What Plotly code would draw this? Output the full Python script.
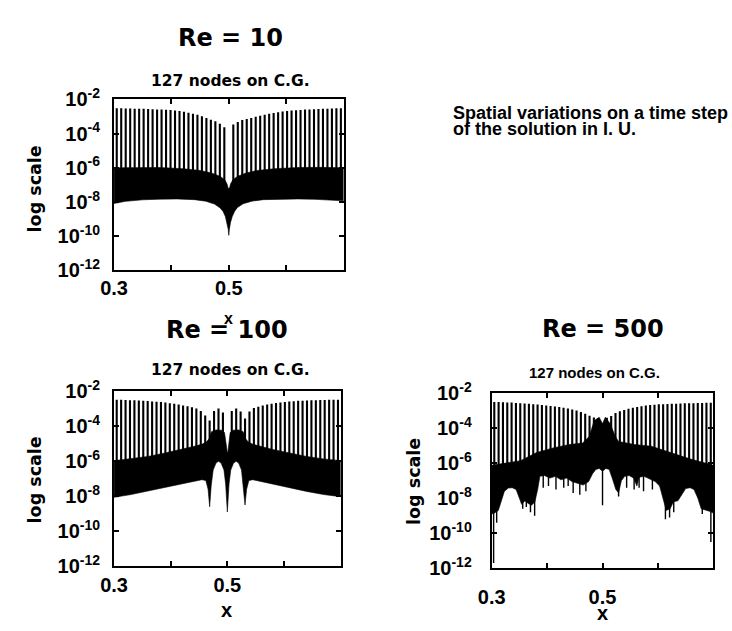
import numpy as np
import plotly.graph_objects as go

# Uniform grid: 127 interior nodes on [0, 1] (spacing 1/128); the window
# 0.3 <= x <= 0.7 holds nodes 39..89.
node_k = np.arange(39, 90)
node_x = node_k / 128.0

# log10 of the nodal peak amplitude, nodes 39..89 (None: no peak at x = 0.5)
peak_re10 = [-2.52, -2.52, -2.53, -2.53, -2.54, -2.54, -2.55, -2.56, -2.57, -2.58,
             -2.59, -2.60, -2.62, -2.64, -2.67, -2.72, -2.77, -2.83, -2.90, -2.98,
             -3.08, -3.18, -3.28, -3.42, -3.62, None,
             -3.46, -3.32, -3.20, -3.14, -3.08, -3.01, -2.95, -2.90, -2.84, -2.79,
             -2.75, -2.71, -2.68, -2.65, -2.63, -2.61, -2.59, -2.58, -2.57, -2.56,
             -2.55, -2.54, -2.53, -2.52, -2.52]
peak_re100 = [-2.48, -2.48, -2.49, -2.50, -2.51, -2.52, -2.54, -2.55, -2.57, -2.59,
              -2.61, -2.64, -2.67, -2.71, -2.75, -2.80, -2.85, -2.90, -2.98, -3.12,
              -3.38, -3.66, -3.12, -2.97, -3.20, None,
              -3.12, -2.98, -3.15, -3.55, -3.15, -2.95, -2.87, -2.80, -2.75, -2.70,
              -2.66, -2.63, -2.60, -2.58, -2.56, -2.54, -2.53, -2.52, -2.51, -2.50,
              -2.49, -2.49, -2.48, -2.48, -2.48]
peak_re500 = [-2.49, -2.50, -2.51, -2.52, -2.53, -2.55, -2.56, -2.58, -2.60, -2.62,
              -2.64, -2.67, -2.70, -2.72, -2.75, -2.78, -2.82, -2.86, -2.92, -2.98,
              -3.06, -3.16, -3.28, -3.38, -3.42, None,
              -3.40, -3.30, -3.12, -3.02, -2.95, -2.88, -2.83, -2.78, -2.74, -2.70,
              -2.67, -2.65, -2.63, -2.62, -2.61, -2.60, -2.59, -2.58, -2.57, -2.56,
              -2.56, -2.55, -2.55, -2.54, -2.54]

# Between-node oscillation band: upper and lower envelopes (log10)
band_hi_x_re10 = [0.300, 0.340, 0.380, 0.420, 0.450, 0.470, 0.485, 0.493, 0.497, 0.4985,
                  0.500, 0.5015, 0.503, 0.507, 0.515, 0.530, 0.550, 0.580, 0.620, 0.660, 0.700]
band_hi_re10 = [-6.00, -5.97, -5.98, -6.05, -6.15, -6.30, -6.50, -6.70, -6.95, -7.15,
                -7.20, -7.15, -6.95, -6.70, -6.50, -6.30, -6.15, -6.05, -5.98, -5.97, -6.00]
band_lo_x_re10 = [0.300, 0.320, 0.350, 0.380, 0.410, 0.440, 0.460, 0.475, 0.485, 0.490,
                  0.494, 0.497, 0.499, 0.500, 0.501, 0.503, 0.506, 0.510, 0.515, 0.525,
                  0.540, 0.560, 0.590, 0.620, 0.650, 0.680, 0.700]
band_lo_re10 = [-8.08, -7.96, -7.87, -7.83, -7.82, -7.86, -7.95, -8.12, -8.35, -8.55,
                -8.85, -9.20, -9.60, -9.95, -9.60, -9.20, -8.85, -8.55, -8.32, -8.10,
                -7.95, -7.86, -7.82, -7.82, -7.84, -7.88, -7.93]

band_hi_x_re100 = [0.300, 0.330, 0.360, 0.390, 0.420, 0.440, 0.455, 0.463, 0.468, 0.472,
                   0.480, 0.490, 0.495, 0.4975, 0.499, 0.500, 0.501, 0.5025, 0.505, 0.510,
                   0.520, 0.528, 0.532, 0.537, 0.545, 0.560, 0.580, 0.610, 0.640, 0.670, 0.700]
band_hi_re100 = [-5.96, -5.86, -5.72, -5.52, -5.32, -5.15, -5.02, -4.90, -4.70, -4.30,
                 -4.20, -4.22, -4.35, -5.00, -5.45, -5.50, -5.45, -5.00, -4.35, -4.22,
                 -4.20, -4.30, -4.70, -4.90, -5.02, -5.15, -5.32, -5.52, -5.72, -5.86, -5.96]
band_lo_x_re100 = [0.300, 0.330, 0.360, 0.390, 0.420, 0.440, 0.455, 0.462, 0.466, 0.4688,
                   0.4715, 0.475, 0.480, 0.4844, 0.489, 0.494, 0.497, 0.500, 0.503, 0.506,
                   0.511, 0.5156, 0.520, 0.525, 0.5285, 0.5312, 0.534, 0.538, 0.545, 0.560,
                   0.580, 0.610, 0.640, 0.670, 0.700]
band_lo_re100 = [-8.06, -7.90, -7.72, -7.50, -7.30, -7.15, -7.05, -7.10, -7.60, -8.60,
                 -7.40, -6.50, -6.10, -6.00, -6.10, -6.50, -7.30, -8.90, -7.30, -6.50,
                 -6.10, -6.00, -6.10, -6.50, -7.40, -8.50, -7.60, -7.10, -7.05, -7.15,
                 -7.30, -7.50, -7.72, -7.90, -8.02]

band_hi_x_re500 = [0.300, 0.352, 0.381, 0.411, 0.440, 0.464, 0.476, 0.485, 0.494, 0.500,
                   0.505, 0.514, 0.523, 0.529, 0.558, 0.588, 0.623, 0.659, 0.700]
band_hi_re500 = [-6.12, -5.85, -5.39, -5.12, -4.93, -4.84, -4.47, -3.56, -3.37, -3.74,
                 -3.37, -3.74, -4.47, -4.75, -4.93, -5.02, -5.39, -5.76, -6.12]
band_lo_x_re500 = [0.300, 0.305, 0.312, 0.318, 0.323, 0.330, 0.337, 0.344, 0.350, 0.354,
                   0.360, 0.366, 0.372, 0.378, 0.383, 0.387, 0.395, 0.405, 0.415, 0.425,
                   0.435, 0.445, 0.455, 0.465, 0.475, 0.482, 0.488, 0.494, 0.500, 0.506,
                   0.512, 0.518, 0.524, 0.529, 0.534, 0.540, 0.548, 0.556, 0.562, 0.566,
                   0.575, 0.585, 0.595, 0.603, 0.609, 0.615, 0.622, 0.628, 0.636, 0.643,
                   0.650, 0.658, 0.665, 0.672, 0.678, 0.686, 0.693, 0.700]
band_lo_re500 = [-8.90, -8.85, -8.70, -8.10, -7.60, -7.42, -7.40, -7.50, -8.00, -8.35,
                 -8.15, -8.30, -8.40, -8.20, -7.50, -6.75, -6.70, -6.85, -6.75, -6.95,
                 -6.85, -7.05, -7.15, -7.25, -7.05, -6.60, -6.35, -6.30, -6.45, -6.30,
                 -6.35, -6.90, -7.50, -7.70, -7.00, -6.75, -6.70, -6.85, -7.30, -6.80,
                 -6.75, -6.90, -7.05, -7.30, -8.00, -8.70, -8.60, -8.20, -8.15, -7.80,
                 -7.45, -7.40, -7.50, -8.00, -8.60, -8.70, -8.75, -8.85]

# Isolated downward excursions below the band (Re = 500): position, log10 minimum
drop_x_re500 = [0.3035, 0.309, 0.356, 0.3625, 0.370, 0.3775, 0.393, 0.4025, 0.416, 0.430,
                0.438, 0.447, 0.459, 0.470, 0.500, 0.529, 0.5435, 0.557, 0.566, 0.574,
                0.590, 0.6135, 0.621, 0.6285, 0.680, 0.6955]
drop_lo_re500 = [-11.7, -9.4, -8.6, -8.5, -8.8, -9.0, -7.4, -7.3, -7.5, -7.4,
                 -7.3, -7.7, -7.8, -7.6, -8.4, -7.9, -7.4, -7.5, -7.4, -7.6,
                 -7.5, -9.2, -9.1, -8.8, -8.9, -10.5]

# log10 level inside the band where each nodal peak starts
peak_base = {"re10": -7.0, "re100": -5.98, "re500": -6.2}

decades = [-2, -4, -6, -8, -10, -12]
x_ticks = [0.3, 0.4, 0.5, 0.6, 0.7]
x_tick_text = ["0.3", "", "0.5", "", ""]

INK = "black"
SANS = "Liberation Sans"
WIDE = "DejaVu Sans"


def band_trace(hx, hy, lx, ly, axis):
    xs = list(hx) + list(lx)[::-1]
    ys = [10.0 ** v for v in hy] + [10.0 ** v for v in ly][::-1]
    return go.Scatter(x=xs, y=ys, fill="toself", fillcolor=INK, mode="lines",
                      line=dict(color=INK, width=0.6), hoverinfo="skip",
                      showlegend=False, xaxis="x" + axis, yaxis="y" + axis)


def peak_trace(peaks, base, axis):
    xs, ys = [], []
    for x, p in zip(node_x, peaks):
        if p is None:
            continue
        xs += [x, x, None]
        ys += [10.0 ** base, 10.0 ** p, None]
    return go.Scatter(x=xs, y=ys, mode="lines", line=dict(color=INK, width=2.1),
                      hoverinfo="skip", showlegend=False,
                      xaxis="x" + axis, yaxis="y" + axis)


def drop_trace(dx, dlo, base, axis):
    xs, ys = [], []
    for x, lo in zip(dx, dlo):
        xs += [x, x, None]
        ys += [10.0 ** base, 10.0 ** lo, None]
    return go.Scatter(x=xs, y=ys, mode="lines", line=dict(color=INK, width=1.4),
                      hoverinfo="skip", showlegend=False,
                      xaxis="x" + axis, yaxis="y" + axis)


fig = go.Figure()
fig.add_trace(band_trace(band_hi_x_re10, band_hi_re10, band_lo_x_re10, band_lo_re10, ""))
fig.add_trace(peak_trace(peak_re10, peak_base["re10"], ""))
fig.add_trace(band_trace(band_hi_x_re100, band_hi_re100, band_lo_x_re100, band_lo_re100, "2"))
fig.add_trace(peak_trace(peak_re100, peak_base["re100"], "2"))
fig.add_trace(band_trace(band_hi_x_re500, band_hi_re500, band_lo_x_re500, band_lo_re500, "3"))
fig.add_trace(peak_trace(peak_re500, peak_base["re500"], "3"))
fig.add_trace(drop_trace(drop_x_re500, drop_lo_re500, peak_base["re500"], "3"))


def x_axis(domain, anchor, standoff):
    return dict(domain=domain, anchor=anchor, range=[0.3, 0.7],
                tickmode="array", tickvals=x_ticks, ticktext=x_tick_text,
                ticks="inside", ticklen=5, tickwidth=1.5, tickcolor=INK,
                showline=True, linecolor=INK, linewidth=2, mirror="allticks",
                showgrid=False, zeroline=False, ticklabelstandoff=standoff,
                tickfont=dict(family=SANS, size=20, color=INK, weight="bold"))


def y_axis(domain, anchor, standoff):
    return dict(domain=domain, anchor=anchor, type="log", range=[-12, -2],
                tickmode="array", tickvals=[10.0 ** d for d in decades],
                ticktext=["10<sup>%d</sup>" % d for d in decades],
                ticks="inside", ticklen=5, tickwidth=1.5, tickcolor=INK,
                showline=True, linecolor=INK, linewidth=2, mirror="allticks",
                showgrid=False, zeroline=False, ticklabelstandoff=standoff,
                tickfont=dict(family=SANS, size=20, color=INK, weight="bold"))


W, H = 732, 631


def dx(a, b):
    return [a / W, b / W]


def dy(top, bottom):
    return [1 - bottom / H, 1 - top / H]


fig.update_layout(
    width=W, height=H, margin=dict(l=0, r=0, t=0, b=0),
    paper_bgcolor="white", plot_bgcolor="white", showlegend=False,
    xaxis=x_axis(dx(102, 336), "y", -1),
    yaxis=y_axis(dy(89, 267), "x", 8),
    xaxis2=x_axis(dx(102, 333), "y2", 0),
    yaxis2=y_axis(dy(393, 575), "x2", 8),
    xaxis3=x_axis(dx(487, 713), "y3", 10),
    yaxis3=y_axis(dy(395, 577), "x3", 14),
)


def label(text, x, y, size, family=SANS, angle=0, anchor="center"):
    return dict(text=text, x=x / W, y=1 - y / H, xref="paper", yref="paper",
                showarrow=False, textangle=angle, xanchor=anchor, yanchor="middle",
                font=dict(family=family, size=size, color=INK, weight="bold"))


fig.update_layout(annotations=[
    label("Re = 10", 221, 25, 24, WIDE),
    label("127 nodes on C.G.", 221, 70, 15.5, WIDE),
    label("log scale", 21, 182, 17.5, WIDE, -90),
    label("x", 219, 317, 16),
    label("Re = 100", 217, 329, 24, WIDE),
    label("127 nodes on C.G.", 221, 371, 15.5, WIDE),
    label("log scale", 21, 485, 17.5, WIDE, -90),
    label("x", 217, 621, 20),
    label("Re = 500", 600, 328, 24, WIDE),
    label("127 nodes on C.G.", 592, 373, 15),
    label("log scale", 407, 487, 17.5, WIDE, -90),
    label("x", 600, 624, 20),
    label("Spatial variations on a time step", 446, 103, 18, anchor="left"),
    label("of the solution in I. U.", 446, 120, 18, anchor="left"),
])

fig.write_html("out.html")
